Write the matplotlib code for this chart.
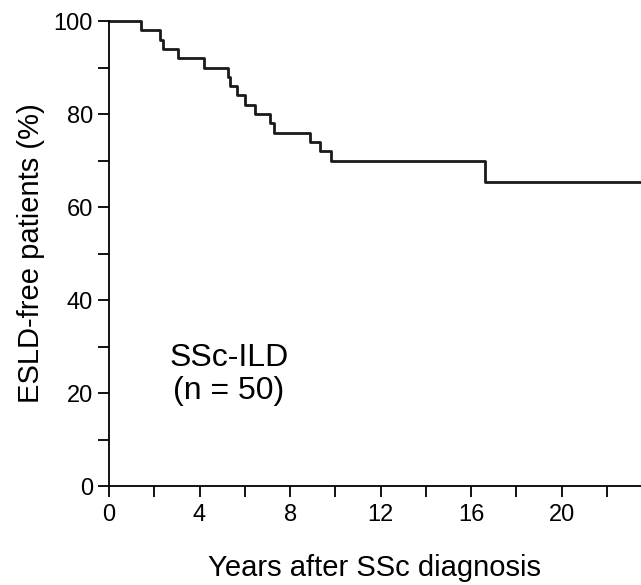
import numpy as np
import matplotlib.pyplot as plt
from matplotlib.ticker import MultipleLocator

plt.rcParams['font.family'] = ['Liberation Sans', 'DejaVu Sans']

# event times (years) and survival (%) after each drop
times = [0, 1.4, 2.26, 2.4, 3.05, 4.2, 5.27, 5.35, 5.65, 6.0, 6.45, 7.1, 7.27, 8.9, 9.3, 9.8, 16.6, 23.5]
surv = [100, 98, 96, 94, 92, 90, 88, 86, 84, 82, 80, 78, 76, 74, 72, 70, 65.3, 65.3]

fig = plt.figure(figsize=(6.41, 5.85), dpi=100)
ax = fig.add_axes([0.170, 0.169, 0.83, 0.795])
ax.step(times, surv, where='post', color='#1a1a1a', lw=2)

ax.set_xlim(0, 23.5)
ax.set_ylim(0, 100)
ax.spines['top'].set_visible(False)
ax.spines['right'].set_visible(False)
for s in ('left', 'bottom'):
    ax.spines[s].set_linewidth(1.3)
ax.set_xticks([0, 4, 8, 12, 16, 20])
ax.set_yticks([0, 20, 40, 60, 80, 100])
ax.xaxis.set_minor_locator(MultipleLocator(2))
ax.yaxis.set_minor_locator(MultipleLocator(10))
ax.tick_params(which='major', length=8, width=1.3, labelsize=17, direction='out')
ax.tick_params(which='minor', length=8, width=1.3, direction='out')
ax.tick_params(axis='x', pad=5)
for l in ax.lines:
    l.set_clip_on(False)

ax.set_ylabel('ESLD-free patients (%)', fontsize=21, labelpad=6)
ax.set_xlabel('Years after SSc diagnosis', fontsize=21, labelpad=20)
ax.text(5.3, 24, 'SSc-ILD\n(n = 50)', fontsize=23, ha='center', va='center', linespacing=1.15)

fig.savefig('out.png', dpi=100)
